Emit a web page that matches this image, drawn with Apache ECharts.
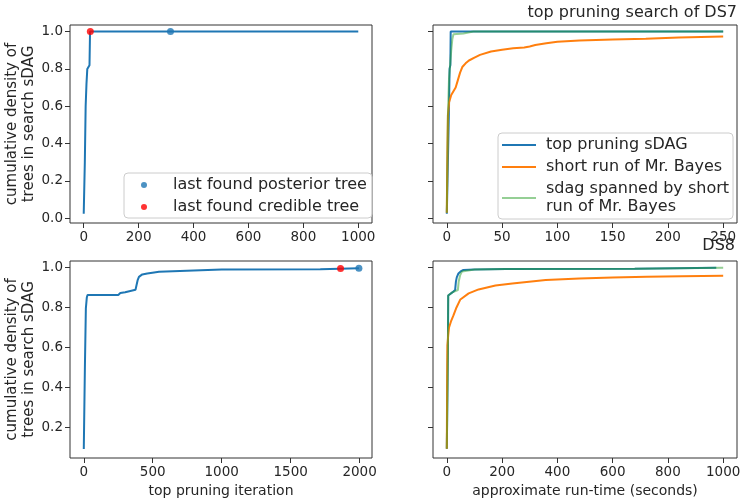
<!DOCTYPE html>
<html><head><meta charset="utf-8">
<script src="https://cdn.jsdelivr.net/npm/echarts@6/dist/echarts.min.js"></script>
<style>html,body{margin:0;padding:0;background:#fff}#c{width:747px;height:504px}</style>
</head><body><div id="c"></div><script>
// ---- DS7: top pruning iteration ----
const ds7IterX = [0, 4, 7, 10, 13, 16, 21, 22, 23, 1000];
const ds7IterY = [0.025, 0.3, 0.6, 0.72, 0.8, 0.81, 0.82, 0.83, 1.0, 1.0];
const ds7PosteriorPt = [316, 1.0];
const ds7CrediblePt = [24, 1.0];
// ---- DS8: top pruning iteration ----
const ds8IterX = [0, 8, 15, 22, 27, 250, 265, 300, 314, 375, 385, 390, 400, 424, 460, 510, 545, 555, 1000, 1715, 1725, 1995];
const ds8IterY = [0.093, 0.5, 0.795, 0.85, 0.862, 0.862, 0.872, 0.876, 0.882, 0.888, 0.89, 0.935, 0.953, 0.965, 0.97, 0.975, 0.978, 0.987, 0.99, 0.991, 0.996, 0.996];
const ds8PosteriorPt = [1995, 0.996];
const ds8CrediblePt = [1862, 0.994];
// ---- DS7: run-time ----
const ds7TopX = [0, 1.5, 2, 2.5, 3.2, 3.5, 250];
const ds7TopY = [0.025, 0.025, 0.6, 0.8, 0.82, 1.0, 1.0];
const ds7BayesX = [0, 0.5, 1, 2, 4, 6, 8, 10, 12, 14, 17, 20, 25, 30, 40, 50, 60, 70, 75, 80, 90, 100, 120, 150, 180, 210, 250];
const ds7BayesY = [0.03, 0.35, 0.55, 0.62, 0.66, 0.68, 0.7, 0.74, 0.78, 0.81, 0.83, 0.845, 0.86, 0.875, 0.893, 0.903, 0.91, 0.915, 0.92, 0.928, 0.937, 0.945, 0.952, 0.957, 0.962, 0.968, 0.973];
const ds7SpanX = [0, 0.5, 1, 2, 3, 4, 5, 6, 15, 24, 250];
const ds7SpanY = [0.03, 0.3, 0.55, 0.75, 0.82, 0.9, 0.96, 0.985, 0.99, 1.0, 1.0];
// ---- DS8: run-time ----
const ds8TopX = [0, 3, 4, 5, 10, 20, 30, 33, 36, 42, 50, 60, 100, 213, 680, 687, 975];
const ds8TopY = [0.094, 0.094, 0.6, 0.86, 0.862, 0.875, 0.887, 0.93, 0.95, 0.97, 0.98, 0.987, 0.99, 0.992, 0.993, 0.998, 0.998];
const ds8BayesX = [0, 1, 2, 5, 8, 15, 24, 35, 49, 79, 115, 176, 237, 358, 480, 600, 723, 850, 1000];
const ds8BayesY = [0.094, 0.4, 0.61, 0.66, 0.7, 0.73, 0.76, 0.8, 0.84, 0.87, 0.89, 0.91, 0.92, 0.937, 0.945, 0.95, 0.953, 0.956, 0.958];
const ds8SpanX = [0, 4, 5, 10, 20, 40, 43, 48, 55, 62, 100, 213, 680, 687, 1000];
const ds8SpanY = [0.094, 0.6, 0.86, 0.862, 0.875, 0.887, 0.93, 0.96, 0.98, 0.987, 0.99, 0.992, 0.993, 0.998, 0.998];
// ---- tick labels ----
const yTicksTop = [0, 0.2, 0.4, 0.6, 0.8, 1.0];
const yTicksBottom = [0.2, 0.4, 0.6, 0.8, 1.0];
const xTicksIterDS7 = [0, 200, 400, 600, 800, 1000];
const xTicksIterDS8 = [0, 500, 1000, 1500, 2000];
const xTicksTimeDS7 = [0, 50, 100, 150, 200, 250];
const xTicksTimeDS8 = [0, 200, 400, 600, 800, 1000];
// ---- names ----
const nameTop = 'top pruning sDAG';
const nameBayes = 'short run of Mr. Bayes';
const nameSpan = 'sdag spanned by short\nrun of Mr. Bayes';
const namePost = 'last found posterior tree';
const nameCred = 'last found credible tree';

const FF = 'DejaVu Sans';
const TXT = '#262626';
const BLUE = '#1f77b4', ORANGE = '#ff7f0e', GREEN = 'rgba(44,160,44,0.5)';
const zip = (xs, ys) => xs.map((x, i) => [x, ys[i]]);

function xAx(g, min, max, ticks, name) {
  return {
    type: 'value', gridIndex: g, min, max,
    axisLine: { show: false, onZero: false }, splitLine: { show: false },
    axisTick: { show: true, length: 5, lineStyle: { color: '#333' }, customValues: ticks },
    axisLabel: { customValues: ticks, margin: 7, fontFamily: FF, fontSize: 13.5, color: TXT, formatter: v => String(Math.round(v)) },
    name: name || '', nameLocation: 'middle', nameGap: 26,
    nameTextStyle: { fontFamily: FF, fontSize: 14, color: TXT }
  };
}
function yAx(g, min, max, ticks, showLabel) {
  return {
    type: 'value', gridIndex: g, min, max,
    axisLine: { show: false, onZero: false }, splitLine: { show: false },
    axisTick: { show: true, length: 5, lineStyle: { color: '#333' }, customValues: ticks },
    axisLabel: { show: showLabel, customValues: ticks, margin: 7, fontFamily: FF, fontSize: 13.5, color: TXT, formatter: v => v.toFixed(1) },
    name: showLabel ? 'cumulative density of\ntrees in search sDAG' : '',
    nameLocation: 'middle', nameRotate: 90, nameGap: 29,
    nameTextStyle: { fontFamily: FF, fontSize: 15, lineHeight: 17, color: TXT }
  };
}
function line(name, xi, yi, xs, ys, color, z) {
  return { type: 'line', name, xAxisIndex: xi, yAxisIndex: yi, data: zip(xs, ys), showSymbol: false, symbol: 'none',
    lineStyle: { color, width: 2 }, itemStyle: { color }, z: z || 2 };
}
function pt(name, xi, yi, p, color) {
  return { type: 'scatter', name, xAxisIndex: xi, yAxisIndex: yi, data: [p], symbolSize: 7, itemStyle: { color }, z: 5 };
}

const gridBase = { show: true, borderColor: '#333', borderWidth: 1, backgroundColor: 'transparent' };
const legendBase = {
  orient: 'vertical', itemGap: 4, selectedMode: false,
  borderColor: '#cccccc', borderWidth: 1, borderRadius: 4, backgroundColor: 'rgba(255,255,255,0.8)'
};

const option = {
  animation: false,
  title: [
    { text: 'top pruning search of DS7', right: 10, top: 4, padding: 0, textStyle: { fontFamily: FF, fontSize: 16, fontWeight: 'normal', color: TXT, lineHeight: 18 } },
    { text: 'DS8', right: 12, top: 237, padding: 0, textStyle: { fontFamily: FF, fontSize: 16, fontWeight: 'normal', color: TXT, lineHeight: 18 } }
  ],
  grid: [
    Object.assign({ left: 70, top: 25, width: 302, height: 198 }, gridBase),
    Object.assign({ left: 433, top: 25, width: 304, height: 198 }, gridBase),
    Object.assign({ left: 70, top: 261, width: 302, height: 197 }, gridBase),
    Object.assign({ left: 433, top: 261, width: 304, height: 197 }, gridBase)
  ],
  xAxis: [
    xAx(0, -50, 1050, xTicksIterDS7),
    xAx(1, -12.5, 262.5, xTicksTimeDS7),
    xAx(2, -100, 2090, xTicksIterDS8, 'top pruning iteration'),
    xAx(3, -50, 1050, xTicksTimeDS8, 'approximate run-time (seconds)')
  ],
  yAxis: [
    yAx(0, -0.025, 1.035, yTicksTop, true),
    yAx(1, -0.025, 1.035, yTicksTop, false),
    yAx(2, 0.048, 1.032, yTicksBottom, true),
    yAx(3, 0.048, 1.032, yTicksBottom, false)
  ],
  legend: [
    Object.assign({ left: 124, top: 173, itemWidth: 6, itemHeight: 6, padding: [3, 5, 2, 17], icon: 'circle',
      textStyle: { fontFamily: FF, fontSize: 16, lineHeight: 18, color: TXT, padding: [0, 0, 0, 21] },
      data: [namePost, nameCred] }, legendBase),
    Object.assign({ left: 498, top: 133, itemWidth: 34, itemHeight: 2, padding: [3, 4, 3, 4], icon: 'rect',
      textStyle: { fontFamily: FF, fontSize: 16, lineHeight: 18, color: TXT, padding: [0, 0, 0, 5] },
      itemGap: 5, data: [nameTop, nameBayes, nameSpan] }, legendBase)
  ],
  series: [
    line(nameTop, 0, 0, ds7IterX, ds7IterY, BLUE),
    pt(namePost, 0, 0, ds7PosteriorPt, BLUE),
    pt(nameCred, 0, 0, ds7CrediblePt, 'red'),
    line(nameTop, 2, 2, ds8IterX, ds8IterY, BLUE),
    pt(namePost, 2, 2, ds8PosteriorPt, BLUE),
    pt(nameCred, 2, 2, ds8CrediblePt, 'red'),
    line(nameTop, 1, 1, ds7TopX, ds7TopY, BLUE, 2),
    line(nameBayes, 1, 1, ds7BayesX, ds7BayesY, ORANGE, 3),
    line(nameSpan, 1, 1, ds7SpanX, ds7SpanY, GREEN, 4),
    line(nameTop, 3, 3, ds8TopX, ds8TopY, BLUE, 2),
    line(nameBayes, 3, 3, ds8BayesX, ds8BayesY, ORANGE, 3),
    line(nameSpan, 3, 3, ds8SpanX, ds8SpanY, GREEN, 4)
  ]
};
const chart = echarts.init(document.getElementById('c'), null, { renderer: 'canvas' });
chart.setOption(option);
</script></body></html>
